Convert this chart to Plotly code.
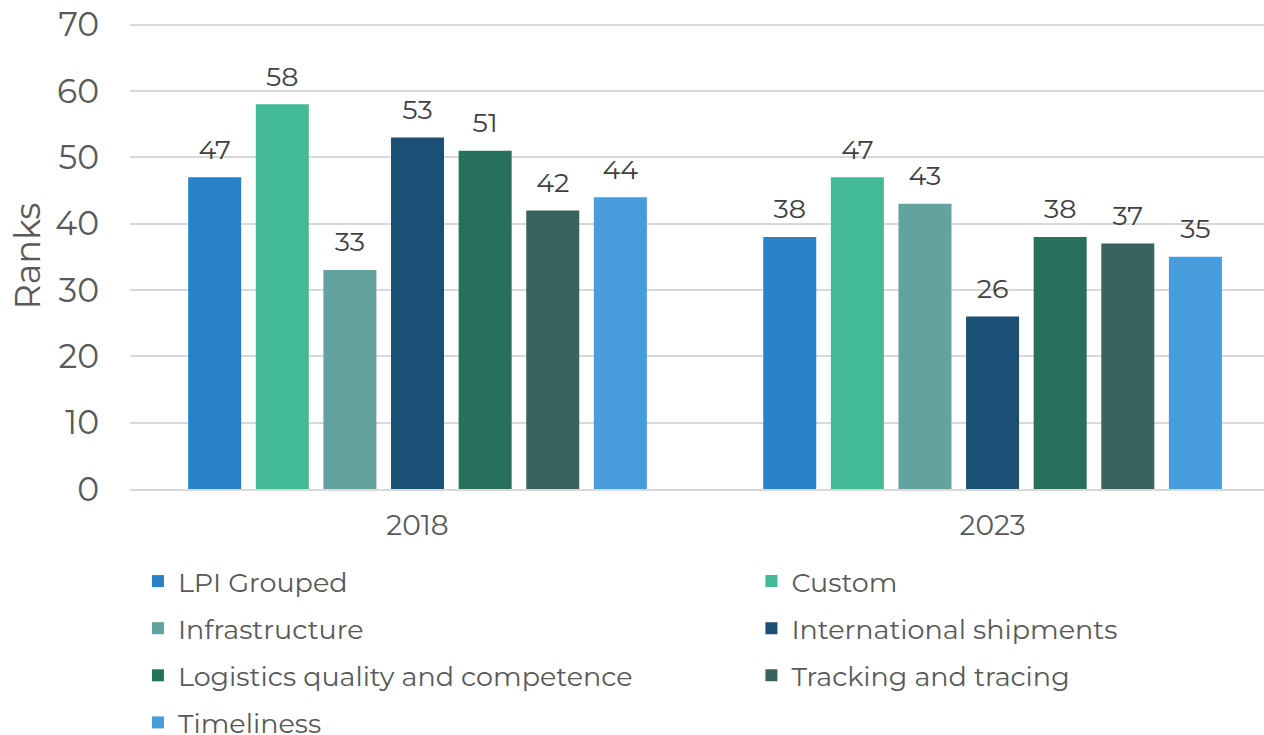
import plotly.graph_objects as go

years = ["2018", "2023"]
series_names = [
    "LPI Grouped",
    "Custom",
    "Infrastructure",
    "International shipments",
    "Logistics quality and competence",
    "Tracking and tracing",
    "Timeliness",
]
ranks_2018 = [47, 58, 33, 53, 51, 42, 44]
ranks_2023 = [38, 47, 43, 26, 38, 37, 35]

COLORS = ["#2882C8", "#43BA96", "#63A29E", "#1A4F76", "#27705C", "#39635E", "#479CDB"]
# legend column for each series (two column layout)
LEGEND_COL = ["legend", "legend2", "legend", "legend2", "legend", "legend2", "legend"]
LABEL_PAD = 1.3  # small transparent spacer so value labels sit a bit above the bars

FONT = "Montserrat, DejaVu Sans, sans-serif"

fig = go.Figure()
for i, name in enumerate(series_names):
    vals = [ranks_2018[i], ranks_2023[i]]
    fig.add_trace(go.Bar(
        x=years,
        y=vals,
        name=name,
        offsetgroup=str(i),
        marker=dict(color=COLORS[i], line=dict(width=0)),
        legend=LEGEND_COL[i],
        legendgroup=name,
    ))
    # spacer bar carrying the value label
    fig.add_trace(go.Bar(
        x=years,
        y=[LABEL_PAD] * len(vals),
        base=vals,
        offsetgroup=str(i),
        marker=dict(color="rgba(0,0,0,0)", line=dict(width=0)),
        text=[str(v) for v in vals],
        textposition="outside",
        textfont=dict(size=27, color="#404040", family=FONT),
        cliponaxis=False,
        showlegend=False,
        hoverinfo="skip",
    ))

legend_style = dict(
    orientation="v",
    yanchor="top",
    y=-0.146,
    xanchor="left",
    font=dict(size=27, color="#595959", family=FONT),
    bgcolor="rgba(0,0,0,0)",
    tracegroupgap=9,
    itemwidth=30,
    maxheight=400,
)

fig.update_layout(
    width=1264,
    height=735,
    barmode="group",
    bargap=0.177,
    bargroupgap=0.216,
    plot_bgcolor="white",
    paper_bgcolor="white",
    margin=dict(l=130, r=0, t=23, b=246, autoexpand=False),
    font=dict(family=FONT, color="#595959"),
    legend=dict(x=0.007, **legend_style),
    legend2=dict(x=0.548, **legend_style),
    xaxis=dict(
        range=[-0.5, 1.472],
        showgrid=False,
        showline=True,
        linecolor="#d9d9d9",
        linewidth=2,
        ticks="",
        ticklabelstandoff=10,
        tickfont=dict(size=28, color="#595959", family=FONT),
    ),
    yaxis=dict(
        # a hair above 70 so the top gridline isn't dropped at the plot edge
        range=[0, 70.25],
        tickvals=[0, 10, 20, 30, 40, 50, 60, 70],
        showgrid=True,
        gridcolor="#d9d9d9",
        gridwidth=2,
        zeroline=False,
        ticklabeloverflow="allow",
        tickfont=dict(size=33, color="#595959", family=FONT),
        ticklabelstandoff=30,
        title=dict(text="Ranks", font=dict(size=35, color="#595959", family=FONT), standoff=4),
    ),
)

# drop the browser's default page margin so the figure sits at the window origin
fig.write_html(
    "out.html",
    config={"displayModeBar": False},
    post_script="document.body.style.margin='0';",
)
